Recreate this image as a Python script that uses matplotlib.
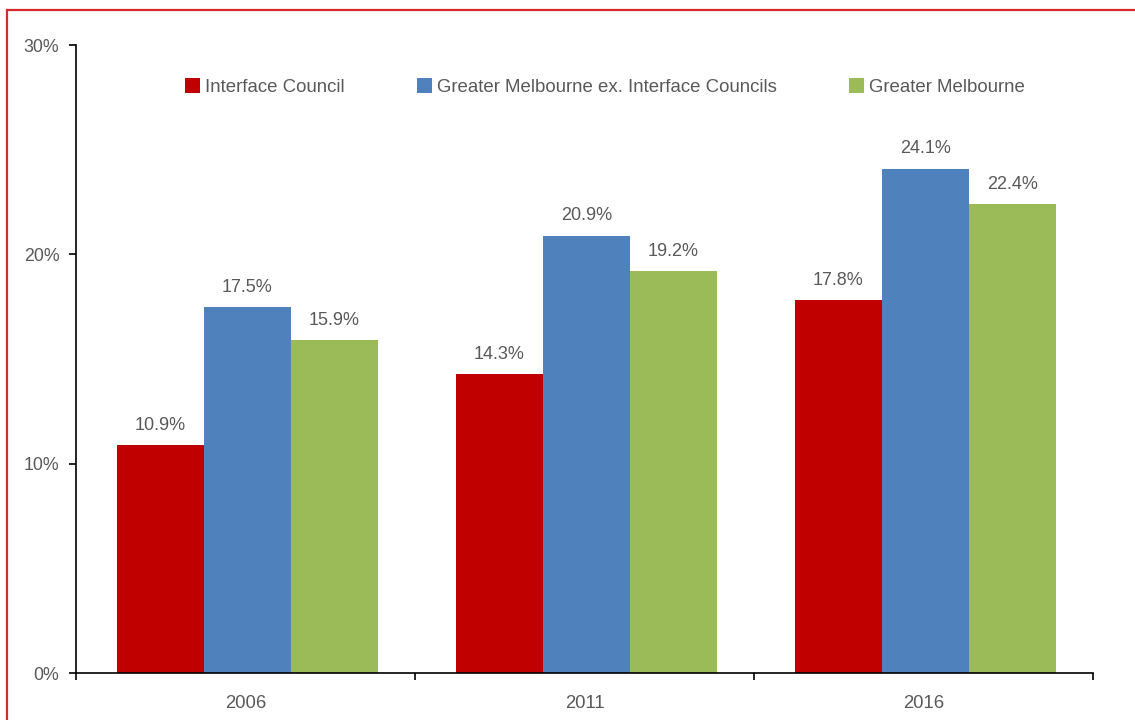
import matplotlib
matplotlib.use("Agg")
import matplotlib.pyplot as plt
import numpy as np
from matplotlib.patches import Rectangle
from matplotlib.ticker import FuncFormatter

years = ["2006", "2011", "2016"]
interface = [10.9, 14.3, 17.8]
melb_ex_interface = [17.5, 20.9, 24.1]
greater_melb = [15.9, 19.2, 22.4]

series = [
    ("Interface Council", interface, "#c00000"),
    ("Greater Melbourne ex. Interface Councils", melb_ex_interface, "#4f81bd"),
    ("Greater Melbourne", greater_melb, "#9bbb59"),
]

plt.rcParams["font.family"] = ["Liberation Sans", "DejaVu Sans"]
text_col = "#595959"

fig = plt.figure(figsize=(11.35, 7.2), dpi=100)
ax = fig.add_axes([0.067, 0.065, 0.896, 0.8725])

x = np.arange(len(years))
w = 0.257
for i, (name, vals, col) in enumerate(series):
    pos = x + (i - 1) * w + 0.005
    bars = ax.bar(pos, vals, width=w, color=col, label=name)
    for b, v in zip(bars, vals):
        ax.annotate(f"{v:.1f}%", (b.get_x() + b.get_width() / 2, v),
                    xytext=(0, 8), textcoords="offset points",
                    ha="center", va="bottom", fontsize=13, color=text_col)

ax.set_xlim(-0.5, 2.5)
ax.set_ylim(0, 30)
ax.set_yticks([0, 10, 20, 30])
ax.yaxis.set_major_formatter(FuncFormatter(lambda v, p: f"{v:.0f}%"))
ax.set_xticks(x)
ax.set_xticklabels(years)
ax.set_xticks([-0.5, 0.5, 1.5, 2.5], minor=True)
ax.tick_params(axis="x", which="major", length=0, pad=16, labelsize=13.3, labelcolor=text_col)
ax.tick_params(axis="x", which="minor", length=5, width=1.2, color="black")
ax.tick_params(axis="y", length=5, width=1.2, pad=7, labelsize=12.8, labelcolor=text_col)

for s in ["top", "right"]:
    ax.spines[s].set_visible(False)
for s in ["left", "bottom"]:
    ax.spines[s].set_linewidth(1.2)

ax.legend(loc="center", bbox_to_anchor=(0.52, 0.933), ncol=3, frameon=False,
          fontsize=13.4, labelcolor=text_col, handlelength=0.8, handleheight=0.8,
          handletextpad=0.25, columnspacing=3.9)

fig.patches.append(Rectangle((7 / 1135, -0.05), 1.1, 1 - 10 / 720 + 0.05,
                             transform=fig.transFigure, fill=False,
                             edgecolor="#d42a2a", linewidth=1.6))

fig.savefig("out.png", dpi=100)
